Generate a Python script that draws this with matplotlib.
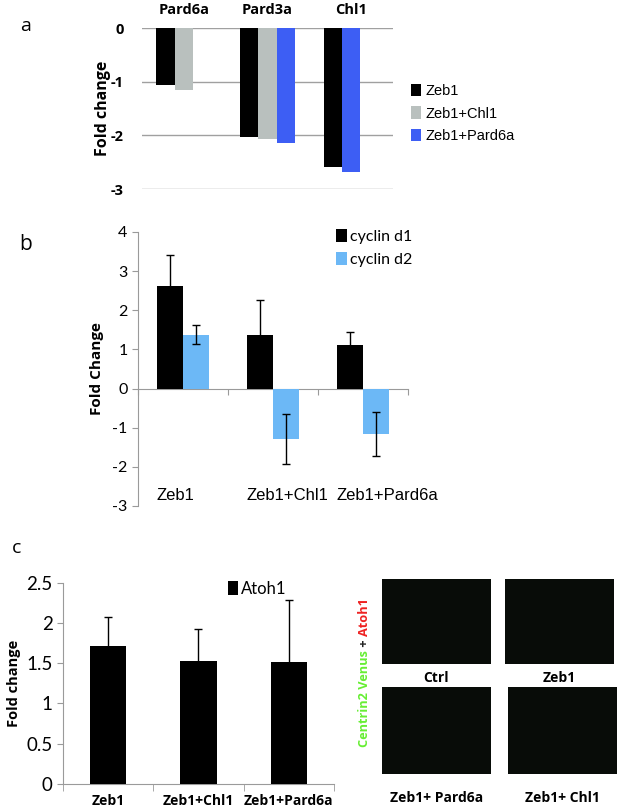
import numpy as np
import matplotlib
matplotlib.use("Agg")
import matplotlib.pyplot as plt

# panel a: fold change of targets
a_genes = ['Pard6a', 'Pard3a', 'Chl1']
a_series = ['Zeb1', 'Zeb1+Chl1', 'Zeb1+Pard6a']
a_zeb1 = [-1.06, -2.02, -2.58]
a_zeb1_chl1 = [-1.15, -2.06, np.nan]
a_zeb1_pard6a = [np.nan, -2.14, -2.69]
a_colors = ['#000000', '#b9c0be', '#3d5ef4']

# panel b: cyclins
b_groups = ['Zeb1', 'Zeb1+Chl1', 'Zeb1+Pard6a']
b_d1 = [2.62, 1.38, 1.10]
b_d1_err = [0.78, 0.89, 0.34]
b_d2 = [1.38, -1.29, -1.16]
b_d2_err = [0.24, 0.65, 0.56]
b_yticks = [4, 3, 2, 1, 0, -1, -2, -3]

# panel c: Atoh1
c_groups = ['Zeb1', 'Zeb1+Chl1', 'Zeb1+Pard6a']
c_atoh1 = [1.72, 1.53, 1.52]
c_err = [0.36, 0.39, 0.76]
c_yticks = [0, 0.5, 1, 1.5, 2, 2.5]
c_images = ['Ctrl', 'Zeb1', 'Zeb1+ Pard6a', 'Zeb1+ Chl1']
stain_parts = ['Centrin2 Venus', ' + ', 'Atoh1']
stain_colors = ['#66ee33', '#222222', '#ee2222']

plt.rcParams['font.family'] = ['Open Sans', 'DejaVu Sans']
fig = plt.figure(figsize=(6.17, 8.08), dpi=100)

# ---------- a ----------
ax = fig.add_axes([0.230, 0.766, 0.407, 0.199])
w = 0.22
x = np.arange(len(a_genes))
for i in range(len(a_genes)):
	vals = [a_zeb1[i], a_zeb1_chl1[i], a_zeb1_pard6a[i]]
	slot = -1
	for v, c in zip(vals, a_colors):
		if np.isnan(v):
			continue
		ax.bar(x[i] + slot * w, v, w, color=c, zorder=3)
		slot += 1
for s, c in zip(a_series, a_colors):
	ax.bar([0], [np.nan], color=c, label=s)
ax.set_xlim(-0.5, 2.5)
ax.set_ylim(-3, 0)
ax.set_yticks([0, -1, -2, -3])
ax.set_yticklabels(['0', '-1', '-2', '-3'], fontweight='bold', fontsize=10.5)
ax.yaxis.grid(True, color='#a0a0a0', lw=1, zorder=0)
ax.tick_params(axis='y', length=0, pad=13)
ax.set_xticks(x)
ax.set_xticklabels(a_genes, fontweight='bold', fontsize=10.5)
ax.xaxis.tick_top()
ax.tick_params(axis='x', length=0, pad=8)
for sp in ax.spines.values():
	sp.set_visible(False)
ax.set_ylabel('Fold change', fontweight='bold', fontsize=11.5, labelpad=0)
ax.legend(loc='center left', bbox_to_anchor=(1.02, 0.47), frameon=False,
	prop={'family': 'Liberation Sans', 'size': 10.5}, handlelength=0.7,
	handleheight=0.9, handletextpad=0.3, labelspacing=0.55)
fig.text(0.032, 0.968, 'a', fontsize=14, va='center')

# ---------- b ----------
ax = fig.add_axes([0.2237, 0.3738, 0.4376, 0.3391])
w = 0.285
x = np.arange(len(b_groups))
ekw = dict(ecolor='black', elinewidth=1, capsize=3, capthick=1)
ax.bar(x - w / 2, b_d1, w, color='black', yerr=b_d1_err, error_kw=ekw, label='cyclin d1', zorder=3)
ax.bar(x + w / 2, b_d2, w, color='#6cb8f6', yerr=b_d2_err, error_kw=ekw, label='cyclin d2', zorder=3)
ax.set_xlim(-0.5, 2.5)
ax.set_ylim(-3, 4)
ax.set_yticks(b_yticks)
ax.set_yticklabels([str(t) for t in b_yticks], fontsize=11.5, family='Lato')
ax.spines['top'].set_visible(False)
ax.spines['right'].set_visible(False)
ax.spines['bottom'].set_position(('data', 0))
for sp in ['left', 'bottom']:
	ax.spines[sp].set_color('#9a9a9a')
ax.set_xticks([-0.5, 0.5, 1.5, 2.5])
ax.set_xticklabels([])
ax.tick_params(axis='both', color='#9a9a9a', direction='out', length=4)
for i, g in enumerate(b_groups):
	ax.text(x[i] - 0.29, -2.72, g, fontsize=12, family='Liberation Sans', va='center', ha='left')
ax.set_ylabel('Fold Change', fontweight='bold', fontsize=11, labelpad=6)
ax.legend(loc='upper left', bbox_to_anchor=(0.68, 1.065), frameon=False,
	prop={'family': 'Lato', 'size': 11.5}, handlelength=0.7, handleheight=0.9,
	handletextpad=0.2, labelspacing=0.5)
fig.text(0.032, 0.698, 'b', fontsize=15, va='center')

# ---------- c ----------
ax = fig.add_axes([0.1021, 0.0297, 0.4392, 0.2491])
w = 0.4
x = np.arange(len(c_groups))
ax.bar(x, c_atoh1, w, color='black', yerr=c_err, error_kw=ekw, label='Atoh1', zorder=3)
ax.set_xlim(-0.5, 2.5)
ax.set_ylim(0, 2.5)
ax.set_yticks(c_yticks)
ax.set_yticklabels(['0', '0.5', '1', '1.5', '2', '2.5'], fontsize=13.5, family='Lato')
ax.set_xticks(x)
ax.set_xticklabels(c_groups, fontweight='bold', fontsize=10)
ax.set_xticks([-0.5, 0.5, 1.5, 2.5], minor=True)
ax.tick_params(axis='x', which='major', length=0, pad=7)
ax.tick_params(axis='x', which='minor', length=5, color='#9a9a9a')
ax.tick_params(axis='y', length=4, color='#9a9a9a')
ax.spines['top'].set_visible(False)
ax.spines['right'].set_visible(False)
for sp in ['left', 'bottom']:
	ax.spines[sp].set_color('#9a9a9a')
ax.set_ylabel('Fold change', fontweight='bold', fontsize=10.5, labelpad=4)
ax.legend(loc='upper left', bbox_to_anchor=(0.555, 1.085), frameon=False,
	prop={'family': 'Lato', 'size': 12}, handlelength=0.6, handleheight=0.9,
	handletextpad=0.15)
fig.text(0.02, 0.322, 'c', fontsize=14, va='center')

# microscopy panels (placeholders)
img_pos = [[0.619, 0.1782, 0.1767, 0.1052], [0.8185, 0.1782, 0.1767, 0.1052],
	[0.619, 0.0421, 0.1767, 0.1077], [0.8233, 0.0421, 0.1767, 0.1077]]
lab_y = [0.161, 0.161, 0.012, 0.012]
for pos, name, ly in zip(img_pos, c_images, lab_y):
	iax = fig.add_axes(pos)
	iax.set_facecolor('#080c08')
	iax.set_xticks([])
	iax.set_yticks([])
	for sp in iax.spines.values():
		sp.set_visible(False)
	fig.text(pos[0] + pos[2] / 2, ly, name, fontweight='bold', fontsize=10, ha='center', va='center')

# vertical stain label, built piece by piece from the bottom up
renderer = fig.canvas.get_renderer()
y0 = 1 - 747 / 808.0
for part, col in zip(stain_parts, stain_colors):
	t = fig.text(0.590, y0, part, color=col, fontweight='bold', fontsize=9.2,
		rotation=90, ha='center', va='bottom')
	bb = t.get_window_extent(renderer=renderer)
	y0 += bb.height / fig.bbox.height

fig.savefig('out.png', dpi=100)
